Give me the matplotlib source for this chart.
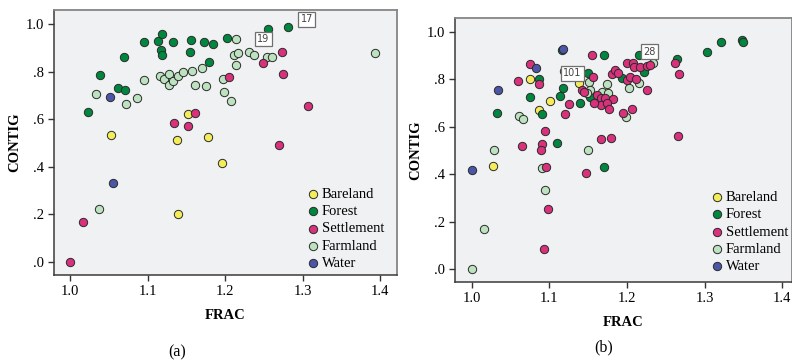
import matplotlib
matplotlib.use("Agg")
import matplotlib.pyplot as plt
from matplotlib.ticker import FuncFormatter, FixedLocator

plt.rcParams["font.family"] = ["Liberation Serif", "DejaVu Serif"]

# ---- (a) FRAC vs CONTIG ----
a_bare_frac = [1.0524, 1.1374, 1.1516, 1.1775, 1.196, 1.1395]
a_bare_contig = [0.534, 0.511, 0.622, 0.524, 0.415, 0.200]

a_forest_frac = [1.0226, 1.0386, 1.0615, 1.0705, 1.070, 1.0955, 1.1128, 1.1184, 1.1167, 1.1184,
                 1.1326, 1.1559, 1.155, 1.1723, 1.185, 1.2025, 1.1788, 1.2555, 1.2814]
a_forest_contig = [0.629, 0.786, 0.732, 0.721, 0.861, 0.926, 0.927, 0.957, 0.891, 0.870,
                   0.926, 0.933, 0.881, 0.926, 0.916, 0.943, 0.840, 0.979, 0.989]

a_settle_frac = [1.000, 1.0166, 1.1339, 1.152, 1.161, 1.2047, 1.2494, 1.2732, 1.2745, 1.3068, 1.270]
a_settle_contig = [0.000, 0.167, 0.585, 0.573, 0.627, 0.776, 0.836, 0.881, 0.790, 0.655, 0.490]

a_farm_frac = [1.033, 1.0369, 1.0718, 1.086, 1.095, 1.1154, 1.121, 1.127, 1.1274, 1.133,
               1.1387, 1.145, 1.1576, 1.1615, 1.1697, 1.175, 1.1973, 1.199, 1.208, 1.2137,
               1.2115, 1.217, 1.2145, 1.2313, 1.237, 1.2542, 1.2607, 1.3935]
a_farm_contig = [0.706, 0.223, 0.663, 0.690, 0.763, 0.782, 0.769, 0.744, 0.789, 0.761,
                 0.782, 0.797, 0.803, 0.744, 0.817, 0.739, 0.771, 0.713, 0.676, 0.937,
                 0.871, 0.879, 0.829, 0.881, 0.868, 0.863, 0.860, 0.879]

a_water_frac = [1.0507, 1.0554]
a_water_contig = [0.692, 0.333]

a_ids = ["17", "19"]
a_id_frac = [1.3056, 1.2494]
a_id_contig = [1.0197, 0.937]

# ---- (b) FRAC vs CONTIG ----
b_bare_frac = [1.0755, 1.1189, 1.1004, 1.0863, 1.027, 1.1382]
b_bare_contig = [0.802, 0.834, 0.708, 0.670, 0.436, 0.784]

b_forest_frac = [1.1167, 1.0871, 1.0755, 1.0322, 1.0901, 1.118, 1.1141, 1.1395, 1.1102, 1.150,
                 1.1527, 1.1708, 1.1932, 1.2155, 1.2219, 1.264, 1.3026, 1.3207, 1.3477, 1.3498,
                 1.1704]
b_forest_contig = [0.925, 0.803, 0.727, 0.658, 0.655, 0.765, 0.729, 0.699, 0.530, 0.826,
                   0.726, 0.903, 0.805, 0.903, 0.833, 0.885, 0.914, 0.956, 0.966, 0.958,
                   0.432]

b_settle_frac = [1.1545, 1.0751, 1.0592, 1.0871, 1.1253, 1.1206, 1.0948, 1.0644, 1.0909, 1.0896,
                 1.0953, 1.1472, 1.1558, 1.142, 1.161, 1.1661, 1.1717, 1.1824, 1.1661, 1.1747,
                 1.1768, 1.1945, 1.2068, 1.1803, 1.1845, 1.1888, 1.1996, 1.2039, 1.1996, 1.2081,
                 1.2094, 1.2167, 1.2254, 1.2296, 1.2262, 1.2618, 1.2673, 1.2661, 1.1661, 1.1794,
                 1.0987, 1.0931, 1.145, 1.211, 1.158]
b_settle_contig = [0.903, 0.866, 0.793, 0.781, 0.696, 0.654, 0.581, 0.520, 0.527, 0.502,
                   0.432, 0.406, 0.809, 0.755, 0.734, 0.720, 0.720, 0.717, 0.691, 0.702,
                   0.674, 0.657, 0.674, 0.822, 0.840, 0.828, 0.797, 0.811, 0.868, 0.868,
                   0.851, 0.854, 0.857, 0.861, 0.755, 0.868, 0.821, 0.561, 0.549, 0.554,
                   0.252, 0.083, 0.745, 0.800, 0.700]

b_farm_frac = [1.0605, 1.0665, 1.0291, 1.1494, 1.0909, 1.1515, 1.1524, 1.148, 1.1738, 1.1674,
               1.1759, 1.1983, 1.2339, 1.2026, 1.215, 1.0948, 1.0158, 1.000]
b_farm_contig = [0.644, 0.634, 0.501, 0.502, 0.427, 0.790, 0.755, 0.741, 0.781, 0.746,
                 0.744, 0.640, 0.868, 0.762, 0.783, 0.333, 0.167, 0.000]

b_water_frac = [1.118, 1.0832, 1.0343, 1.000]
b_water_contig = [0.930, 0.849, 0.754, 0.418]

b_ids = ["101", "28"]
b_id_frac = [1.130, 1.2287]
b_id_contig = [0.826, 0.917]

classes = ["Bareland", "Forest", "Settlement", "Farmland", "Water"]
colors = {"Bareland": "#f5ec5a", "Forest": "#00873f", "Settlement": "#d9317b",
          "Farmland": "#bde2bf", "Water": "#4b56a8"}
zorders = {"Bareland": 3, "Forest": 4, "Settlement": 6, "Farmland": 5, "Water": 7}

x_ticks = [1.0, 1.1, 1.2, 1.3, 1.4]
y_ticks = [0.0, 0.2, 0.4, 0.6, 0.8, 1.0]


def draw_panel(ax, data, ids, id_x, id_y, xlim, ylim, leg_anchor):
    for name in classes:
        xs, ys = data[name]
        ax.scatter(xs, ys, s=36, c=colors[name], edgecolors="#2b2b2b",
                   linewidths=0.7, label=name, zorder=zorders[name])
    for t, x, y in zip(ids, id_x, id_y):
        ax.text(x, y, t, fontsize=7, family="DejaVu Sans", color="#444444",
                ha="center", va="center", zorder=10,
                bbox=dict(boxstyle="square,pad=0.25", fc="white", ec="#6f6f6f", lw=0.9))
    ax.set_xlim(*xlim)
    ax.set_ylim(*ylim)
    ax.set_facecolor("#f0f1f2")
    ax.xaxis.set_major_locator(FixedLocator(x_ticks))
    ax.yaxis.set_major_locator(FixedLocator(y_ticks))
    ax.yaxis.set_major_formatter(FuncFormatter(
        lambda v, p: "1.0" if abs(v - 1) < 1e-9 else f"{v:.1f}".lstrip("0")))
    ax.tick_params(labelsize=10.5, length=4, width=1, color="#333333", pad=3)
    for side in ["left", "bottom"]:
        ax.spines[side].set_color("#3a3a3a")
        ax.spines[side].set_linewidth(1.1)
    for side in ["top", "right"]:
        ax.spines[side].set_color("#858585")
        ax.spines[side].set_linewidth(1.3)
    ax.set_xlabel("FRAC", fontsize=10.5, fontweight="bold", labelpad=8)
    ax.set_ylabel("CONTIG", fontsize=10.5, fontweight="bold", labelpad=3)
    ax.legend(loc="upper left", bbox_to_anchor=leg_anchor, frameon=False,
              fontsize=10.5, scatterpoints=1, handlelength=0.8, handletextpad=0.25,
              labelspacing=0.28, borderpad=0, borderaxespad=0)


fig = plt.figure(figsize=(7.92, 3.61), dpi=100)
ax_a = fig.add_axes([54 / 792, 86 / 361, 343 / 792, 265 / 361])
ax_b = fig.add_axes([455 / 792, 79 / 361, 337 / 792, 264.3 / 361])

data_a = {"Bareland": (a_bare_frac, a_bare_contig), "Forest": (a_forest_frac, a_forest_contig),
          "Settlement": (a_settle_frac, a_settle_contig), "Farmland": (a_farm_frac, a_farm_contig),
          "Water": (a_water_frac, a_water_contig)}
data_b = {"Bareland": (b_bare_frac, b_bare_contig), "Forest": (b_forest_frac, b_forest_contig),
          "Settlement": (b_settle_frac, b_settle_contig), "Farmland": (b_farm_frac, b_farm_contig),
          "Water": (b_water_frac, b_water_contig)}

draw_panel(ax_a, data_a, a_ids, a_id_frac, a_id_contig, (0.979, 1.422), (-0.055, 1.059), (0.737, 0.33))
draw_panel(ax_b, data_b, b_ids, b_id_frac, b_id_contig, (0.9785, 1.4125), (-0.055, 1.060), (0.759, 0.345))

fig.text(177 / 792, 1 - 352 / 361, "(a)", fontsize=11.5, ha="center", va="center")
fig.text(604 / 792, 1 - 347 / 361, "(b)", fontsize=11.5, ha="center", va="center")

fig.savefig("out.png", dpi=100)
